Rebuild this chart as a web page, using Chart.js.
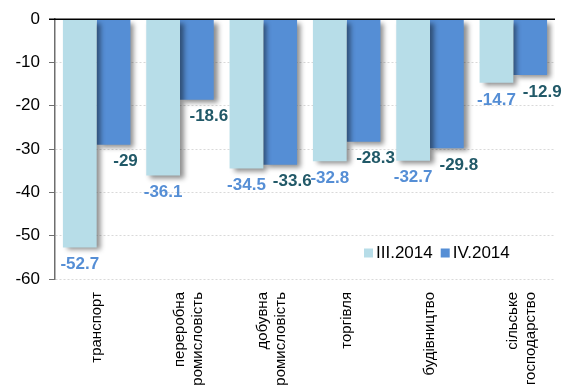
<!DOCTYPE html>
<html>
<head>
<meta charset="utf-8">
<script src="https://cdn.jsdelivr.net/npm/chart.js@4.4.0/dist/chart.umd.min.js"></script>
<style>
  html, body { margin: 0; padding: 0; background: #fff; overflow: hidden; }
  #wrap { width: 563px; height: 385px; position: relative; }
</style>
</head>
<body>
<div id="wrap"><canvas id="myChart"></canvas></div>
<script>
const categories = [
    'транспорт',
    ['переробна', 'промисловість'],
    ['добувна', 'промисловість'],
    'торгівля',
    'будівництво',
    ['сільське', 'господарство']
];
const seriesNames = ['III.2014', 'IV.2014'];
const q3Values = [-52.7, -36.1, -34.5, -32.8, -32.7, -14.7];
const q4Values = [-29, -18.6, -33.6, -28.3, -29.8, -12.9];
const yTicks = [0, -10, -20, -30, -40, -50, -60];

const fontFamily = 'Liberation Sans, Arial, sans-serif';
const barColors = ['#b7dde8', '#558ed5'];
const labelColors = ['#558ed5', '#215968'];

// shadow behind the bars, like the office chart
const shadowPlugin = {
    id: 'barShadow',
    beforeDatasetDraw(chart) {
        const c = chart.ctx;
        c.save();
        c.shadowColor = 'rgba(0,0,0,0.45)';
        c.shadowBlur = 5;
        c.shadowOffsetX = 4;
        c.shadowOffsetY = 3;
    },
    afterDatasetDraw(chart) {
        chart.ctx.restore();
    }
};

// zero line, value labels and legend inside plot
const extrasPlugin = {
    id: 'extras',
    afterDatasetsDraw(chart) {
        const c = chart.ctx;
        const area = chart.chartArea;
        const y0 = chart.scales.y.getPixelForValue(0);
        c.save();
        c.strokeStyle = '#000';
        c.lineWidth = 1.5;
        c.beginPath();
        c.moveTo(area.left - 6, y0);
        c.lineTo(area.right, y0);
        c.stroke();

        c.font = 'bold 17px ' + fontFamily;
        c.textAlign = 'center';
        c.textBaseline = 'middle';
        chart.data.datasets.forEach((ds, i) => {
            const meta = chart.getDatasetMeta(i);
            meta.data.forEach((bar, j) => {
                c.fillStyle = labelColors[i];
                const dx = i === 0 ? 0 : 12;
                c.fillText(String(ds.data[j]), bar.x + dx, bar.y + 17);
            });
        });

        // legend
        c.font = '17px ' + fontFamily;
        c.textAlign = 'left';
        let lx = 364;
        const ly = 253;
        seriesNames.forEach((name, i) => {
            c.fillStyle = barColors[i];
            c.fillRect(lx, ly - 4.5, 9, 9);
            c.fillStyle = '#000';
            c.fillText(name, lx + 12, ly);
            lx += 12 + c.measureText(name).width + 8;
        });
        c.restore();
    }
};

const ctx = document.getElementById('myChart');
new Chart(ctx, {
    type: 'bar',
    data: {
        labels: categories,
        datasets: [{
            label: seriesNames[0],
            data: q3Values,
            backgroundColor: barColors[0],
            categoryPercentage: 0.81,
            barPercentage: 1
        }, {
            label: seriesNames[1],
            data: q4Values,
            backgroundColor: barColors[1],
            categoryPercentage: 0.81,
            barPercentage: 1
        }]
    },
    options: {
        responsive: true,
        maintainAspectRatio: false,
        animation: false,
        devicePixelRatio: 1,
        layout: {
            padding: { top: 12, right: 8, left: 0, bottom: 0 }
        },
        plugins: {
            legend: { display: false },
            tooltip: { enabled: false }
        },
        scales: {
            x: {
                grid: { display: false },
                border: { display: false },
                ticks: {
                    color: '#000',
                    maxRotation: 90,
                    minRotation: 90,
                    padding: 5,
                    font: { family: fontFamily, size: 15 }
                },
                afterFit(scale) {
                    scale.height = 106;
                }
            },
            y: {
                min: -60,
                max: 0,
                afterBuildTicks(scale) {
                    scale.ticks = yTicks.map(v => ({ value: v }));
                },
                grid: {
                    color: '#d9d9d9',
                    tickColor: '#6e6e6e',
                    tickLength: 6,
                    lineWidth: 1
                },
                border: { display: true, color: '#6e6e6e', width: 1.5, dash: [2, 2] },
                ticks: {
                    color: '#000',
                    padding: 9,
                    font: { family: fontFamily, size: 17 }
                },
                afterFit(scale) {
                    scale.width = 55;
                }
            }
        }
    },
    plugins: [shadowPlugin, extrasPlugin]
});
</script>
</body>
</html>
